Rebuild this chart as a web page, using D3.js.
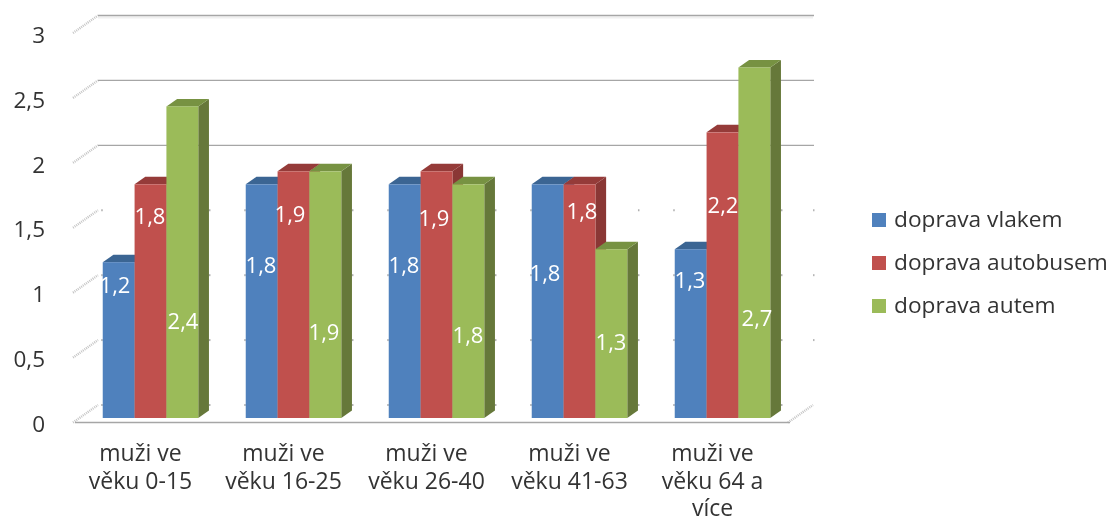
<!DOCTYPE html>
<html>
<head>
<meta charset="utf-8">
<script src="https://cdn.jsdelivr.net/npm/d3@7"></script>
<style>
  html, body { margin: 0; padding: 0; background: #fff; }
  svg { display: block; filter: blur(0.55px); }
  text { font-family: "Open Sans", sans-serif; }
</style>
</head>
<body>
<div id="chart"></div>
<script>
// values
const categories = ["muži ve věku 0-15", "muži ve věku 16-25", "muži ve věku 26-40", "muži ve věku 41-63", "muži ve věku 64 a více"];
const categoryLines = [
  ["muži ve", "věku 0-15"],
  ["muži ve", "věku 16-25"],
  ["muži ve", "věku 26-40"],
  ["muži ve", "věku 41-63"],
  ["muži ve", "věku 64 a", "více"]
];
const seriesNames = ["doprava vlakem", "doprava autobusem", "doprava autem"];
const vlakem = [1.2, 1.8, 1.8, 1.8, 1.3];
const autobusem = [1.8, 1.9, 1.9, 1.8, 2.2];
const autem = [2.4, 1.9, 1.8, 1.3, 2.7];
const yTicks = [0, 0.5, 1, 1.5, 2, 2.5, 3];
const solidGrid = [2, 2.5, 3];

const seriesValues = [vlakem, autobusem, autem];
const frontColors = ["#4f81bd", "#c0504d", "#9bbb59"];
const topColors = ["#3b6593", "#953b39", "#779242"];
const sideColors = ["#335a86", "#8a3735", "#66783a"];

// the labels were moved by hand in the original chart, so they do not follow the bars
const labelCenterX = [
  [115, 150, 183],
  [261, 290, 324],
  [404, 434, 468],
  [545, 582, 611],
  [690, 723, 757]
];
const labelCenterY = [
  [285, 216, 321],
  [265, 214, 332],
  [265, 218, 335],
  [273, 211, 342],
  [280, 205, 318]
];

const width = 1110, height = 520;
// front plane of the chart, the back wall is shifted by wallDx/wallDy
const wallDx = 25, wallDy = -17.5;
const barDx = 6, barDy = -4.5;
const depthX = 10.7, depthY = -7.5;

const svg = d3.select("#chart").append("svg")
  .attr("width", width)
  .attr("height", height);

const x = d3.scaleBand()
  .domain(categories)
  .range([73, 788])
  .paddingInner(0.332)
  .paddingOuter(0.166);

const xSeries = d3.scaleBand()
  .domain(seriesNames)
  .range([0, x.bandwidth()]);

const y = d3.scaleLinear()
  .domain([0, 3])
  .range([422.5, 33]);

const comma = d3.formatLocale({decimal: ",", thousands: " ", grouping: [3], currency: ["", ""]}).format("~r");

// dotted slanted lines on the left wall
svg.append("g")
  .selectAll("line")
  .data(yTicks)
  .enter().append("line")
    .attr("x1", x.range()[0])
    .attr("y1", d => y(d))
    .attr("x2", x.range()[0] + wallDx)
    .attr("y2", d => y(d) + wallDy)
    .attr("stroke", "#c4c4c4")
    .attr("stroke-width", 2.4)
    .attr("stroke-dasharray", "1 1");

// slanted piece at the bottom right
svg.append("line")
  .attr("x1", x.range()[1])
  .attr("y1", y(0))
  .attr("x2", x.range()[1] + wallDx)
  .attr("y2", y(0) + wallDy)
  .attr("stroke", "#c4c4c4")
  .attr("stroke-width", 2.4)
  .attr("stroke-dasharray", "1 1");

// pale strip under the top gridline
svg.append("line")
  .attr("x1", x.range()[0] + wallDx)
  .attr("x2", x.range()[1] + wallDx)
  .attr("y1", y(3) + wallDy + 2)
  .attr("y2", y(3) + wallDy + 2)
  .attr("stroke", "#f0f0f0")
  .attr("stroke-width", 2);

// gridlines on the back wall
svg.append("g")
  .selectAll("line")
  .data(solidGrid)
  .enter().append("line")
    .attr("x1", x.range()[0] + wallDx)
    .attr("x2", x.range()[1] + wallDx + 1)
    .attr("y1", d => y(d) + wallDy)
    .attr("y2", d => y(d) + wallDy)
    .attr("stroke", "#a6a6a6")
    .attr("stroke-width", 1.4);

// the rest of the gridlines only show as little nubs, at the right end and beside the bars
const nubLevels = yTicks.filter(d => !solidGrid.includes(d));
svg.append("g")
  .selectAll("rect")
  .data(nubLevels.filter(d => d > 0))
  .enter().append("rect")
    .attr("x", x.range()[1] + wallDx)
    .attr("y", d => y(d) + wallDy - 1)
    .attr("width", 1.5)
    .attr("height", 2)
    .attr("fill", "#b5b5b5");
categories.forEach(function(cat) {
  const nubs = svg.append("g");
  nubLevels.forEach(function(v) {
    [x(cat) + barDx - 1.5, x(cat) + x.bandwidth() + barDx + depthX].forEach(function(nx) {
      nubs.append("rect")
        .attr("x", nx)
        .attr("y", y(v) + wallDy - 1)
        .attr("width", 1.5)
        .attr("height", 2)
        .attr("fill", "#b0b0b0");
    });
  });
});

// floor line
svg.append("line")
  .attr("x1", x.range()[0] + 2)
  .attr("x2", x.range()[1] + 2)
  .attr("y1", y(0))
  .attr("y2", y(0))
  .attr("stroke", "#a6a6a6")
  .attr("stroke-width", 1.4);

// bars, left one first so that the next one covers its side
categories.forEach(function(cat, i) {
  const g = svg.append("g").attr("transform", `translate(${x(cat) + barDx},${barDy})`);
  seriesNames.forEach(function(name, s) {
    const v = seriesValues[s][i];
    const x0 = xSeries(name), x1 = x0 + xSeries.bandwidth();
    const top = y(v), bottom = y(0);

    g.append("polygon")
      .attr("fill", sideColors[s])
      .attr("points", [[x1, top], [x1 + depthX, top + depthY], [x1 + depthX, bottom + depthY], [x1, bottom]].join(" "));
    g.append("polygon")
      .attr("fill", topColors[s])
      .attr("points", [[x0, top], [x0 + depthX, top + depthY], [x1 + depthX, top + depthY], [x1, top]].join(" "));
    g.append("rect")
      .attr("x", x0)
      .attr("y", top)
      .attr("width", xSeries.bandwidth())
      .attr("height", bottom - top)
      .attr("fill", frontColors[s]);
  });
});

// data labels
categories.forEach(function(cat, i) {
  seriesNames.forEach(function(name, s) {
    svg.append("text")
      .attr("x", labelCenterX[i][s])
      .attr("y", labelCenterY[i][s])
      .attr("dy", "0.36em")
      .attr("text-anchor", "middle")
      .attr("font-size", "22px")
      .attr("fill", "#fff")
      .text(comma(seriesValues[s][i]));
  });
});

// y axis, only the labels are visible
const yAxis = svg.append("g")
  .attr("transform", "translate(45,2)")
  .call(d3.axisLeft(y).tickValues(yTicks).tickFormat(comma).tickSize(0).tickPadding(0));
yAxis.select(".domain").remove();
yAxis.selectAll("text")
  .attr("font-size", "22.5px")
  .attr("fill", "#333")
  .style("font-family", '"Open Sans", sans-serif');

// x axis with labels on several lines
const xAxis = svg.append("g")
  .attr("transform", "translate(-4,0)")
  .call(d3.axisBottom(x).tickSize(0).tickFormat(""));
xAxis.select(".domain").remove();
xAxis.selectAll(".tick text").remove();
xAxis.selectAll(".tick")
  .append("text")
    .attr("text-anchor", "middle")
    .attr("font-size", "23px")
    .attr("fill", "#333")
    .each(function(d, i) {
      d3.select(this).selectAll("tspan")
        .data(categoryLines[i])
        .enter().append("tspan")
          .attr("x", 0)
          .attr("y", (l, k) => 461 + k * 27.5)
          .text(l => l);
    });

// legend
const legend = svg.append("g")
  .selectAll("g")
  .data(seriesNames)
  .enter().append("g")
    .attr("transform", (d, i) => `translate(872,${220 + i * 43})`);
legend.append("rect")
  .attr("x", 0)
  .attr("y", -7)
  .attr("width", 14)
  .attr("height", 14)
  .attr("fill", (d, i) => frontColors[i]);
legend.append("text")
  .attr("x", 22)
  .attr("y", 7)
  .attr("font-size", "22.7px")
  .attr("fill", "#333")
  .text(d => d);
</script>
</body>
</html>
